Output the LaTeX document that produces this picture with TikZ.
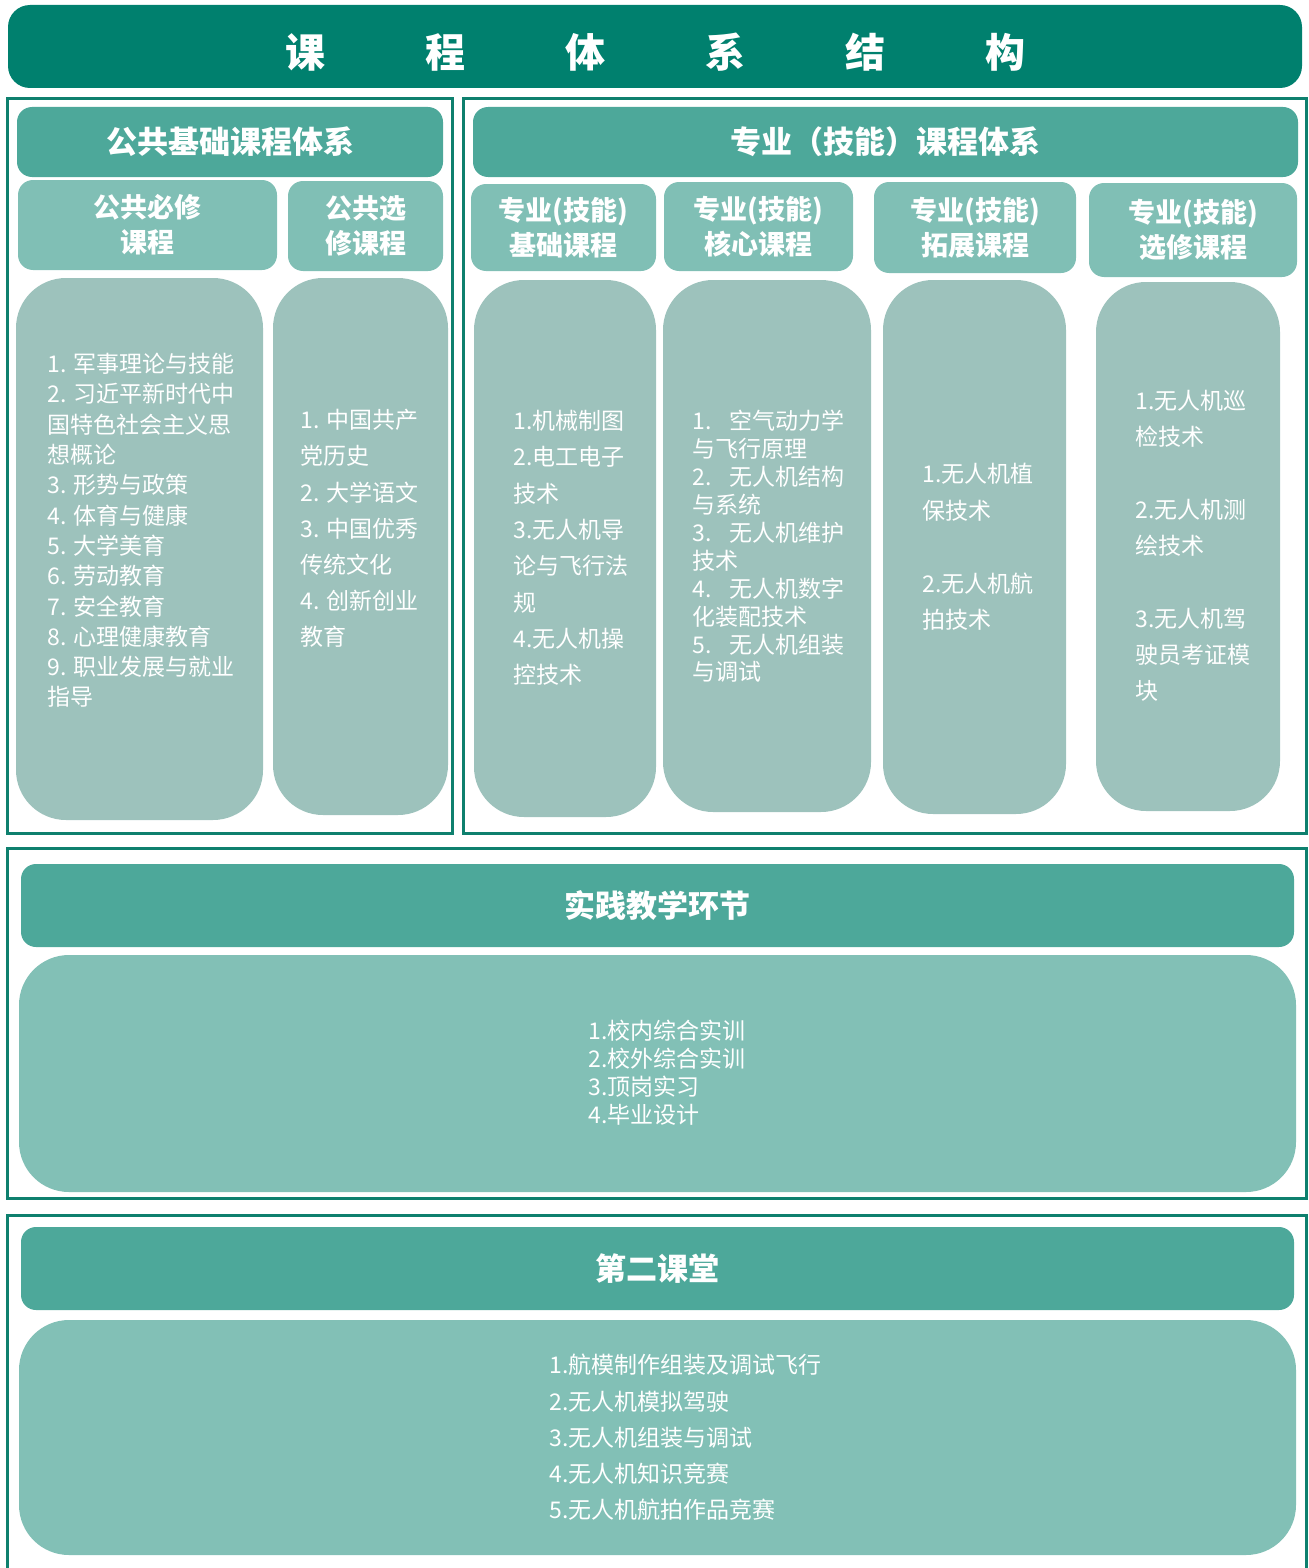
\documentclass[tikz,border=0pt]{standalone}
\usepackage{fontspec}
\setmainfont{Noto Sans CJK SC}
\usetikzlibrary{fit,positioning}
\definecolor{titlegreen}{RGB}{0,128,110}
\definecolor{framegreen}{RGB}{14,128,110}
\definecolor{headgreen}{RGB}{77,168,154}
\definecolor{subgreen}{RGB}{128,191,181}
\definecolor{colgrey}{RGB}{157,194,188}
\definecolor{widegreen}{RGB}{130,192,182}
\tikzset{
  outerframe/.style={draw=framegreen, line width=1.5pt},
  titlebox/.style={fill=titlegreen, rounded corners=11pt, inner sep=0pt},
  titletext/.style={text=white, inner sep=0pt, font=\fontsize{20}{24}\selectfont\bfseries},
  headbox/.style={fill=headgreen, rounded corners=7.5pt, inner sep=0pt},
  headtext/.style={text=white, inner sep=0pt, font=\fontsize{15.5}{19}\selectfont\bfseries},
  subbox/.style={fill=subgreen, rounded corners=7.5pt, inner sep=0pt},
  subtext/.style={text=white, inner sep=0pt, align=center, font=\fontsize{13.5}{17.5}\selectfont\bfseries},
  colbox/.style={fill=colgrey, rounded corners=25pt, inner sep=0pt},
  widebox/.style={fill=widegreen, rounded corners=25pt, inner sep=0pt},
  listtext/.style={text=white, align=left, anchor=west, inner sep=0pt}
}
\begin{document}
\begin{tikzpicture}[x=0.5pt, y=-0.5pt]
  \useasboundingbox (0,0) rectangle (1309,1568);
  % title bar
  \node (title) [titlebox, fit={(8,5) (1302,88)}] {};
  \node (titlelbl) [titletext] at ([yshift=-3pt]title.center)
        {课\hspace{50pt}程\hspace{50pt}体\hspace{50pt}系\hspace{50pt}结\hspace{50pt}构};
  % frames
  \draw[outerframe] (7,99) rectangle (452,833);
  \draw[outerframe] (463,99) rectangle (1306,833);
  \draw[outerframe] (7,848) rectangle (1306,1198);
  \draw[outerframe] (7,1568) -- (7,1215) -- (1306,1215) -- (1306,1568);

  % public courses
  \node (pubhd) [headbox, fit={(17,107) (443,177)},
        label={[headtext]center:公共基础课程体系}] {};
  \node (pubreq) [subbox, fit={(18,180) (277,270)},
        label={[subtext]center:公共必修\\课程}] {};
  \node (pubopt) [subbox, fit={(288,181) (443,271)},
        label={[subtext]center:公共选\\修课程}] {};
  \node (pubreqcol) [colbox, fit={(16,278) (263,820)}] {};
  \node (puboptcol) [colbox, fit={(273,278) (448,815)}] {};
  \node (pubreqlist) [listtext, font=\fontsize{11.5}{15.15}\selectfont] at (47,530.5)
        {1. 军事理论与技能\\2. 习近平新时代中\\国特色社会主义思\\想概论\\3. 形势与政策\\4. 体育与健康\\
         5. 大学美育\\6. 劳动教育\\7. 安全教育\\8. 心理健康教育\\9. 职业发展与就业\\指导};
  \node (puboptlist) [listtext, font=\fontsize{11.5}{18.1}\selectfont] at (300,528.5)
        {1. 中国共产\\党历史\\2. 大学语文\\3. 中国优秀\\传统文化\\4. 创新创业\\教育};

  % professional courses
  \node (prohd) [headbox, fit={(473,107) (1298,177)},
        label={[headtext]center:专业（技能）课程体系}] {};
  \node (probase) [subbox, fit={(471,184) (656,271)},
        label={[subtext]center:专业(技能)\\基础课程}] {};
  \node (procore) [subbox, fit={(664,182) (853,271)},
        label={[subtext]center:专业(技能)\\核心课程}] {};
  \node (proext) [subbox, fit={(874,182) (1076,273)},
        label={[subtext]center:专业(技能)\\拓展课程}] {};
  \node (proopt) [subbox, fit={(1089,183) (1297,277)},
        label={[subtext]center:专业(技能)\\选修课程}] {};
  \node (probasecol) [colbox, fit={(474,280) (656,817)}] {};
  \node (procorecol) [colbox, fit={(663,280) (871,812)}] {};
  \node (proextcol) [colbox, fit={(883,280) (1066,814)}] {};
  \node (prooptcol) [colbox, fit={(1096,282) (1280,811)}] {};
  \node (probaselist) [listtext, font=\fontsize{11.5}{18.15}\selectfont] at (513,548)
        {1.机械制图\\2.电工电子\\技术\\3.无人机导\\论与飞行法\\规\\4.无人机操\\控技术};
  \node (procorelist) [listtext, font=\fontsize{11.5}{13.95}\selectfont] at (692,546.5)
        {1.\hspace{0.8em}空气动力学\\与飞行原理\\2.\hspace{0.8em}无人机结构\\与系统\\
         3.\hspace{0.8em}无人机维护\\技术\\4.\hspace{0.8em}无人机数字\\化装配技术\\
         5.\hspace{0.8em}无人机组装\\与调试};
  \node (proextlist) [listtext, font=\fontsize{11.5}{18.25}\selectfont] at (922,547)
        {1.无人机植\\保技术\\[18.25pt]2.无人机航\\拍技术};
  \node (prooptlist) [listtext, font=\fontsize{11.5}{18.15}\selectfont] at (1135,546)
        {1.无人机巡\\检技术\\[18.15pt]2.无人机测\\绘技术\\[18.15pt]3.无人机驾\\驶员考证模\\块};

  % practice
  \node (prachd) [headbox, fit={(21,864) (1294,947)},
        label={[headtext]center:实践教学环节}] {};
  \node (praccol) [widebox, fit={(19,955) (1296,1192)}] {};
  \node (praclist) [listtext, font=\fontsize{11.5}{14}\selectfont] at (588,1073)
        {1.校内综合实训\\2.校外综合实训\\3.顶岗实习\\4.毕业设计};

  % second classroom
  \node (sechd) [headbox, fit={(21,1227) (1294,1310)},
        label={[headtext]center:第二课堂}] {};
  \node (seccol) [widebox, fit={(19,1320) (1296,1555)}] {};
  \node (seclist) [listtext, font=\fontsize{11.5}{18.15}\selectfont] at (549,1437.5)
        {1.航模制作组装及调试飞行\\2.无人机模拟驾驶\\3.无人机组装与调试\\4.无人机知识竞赛\\5.无人机航拍作品竞赛};
\end{tikzpicture}
\end{document}
